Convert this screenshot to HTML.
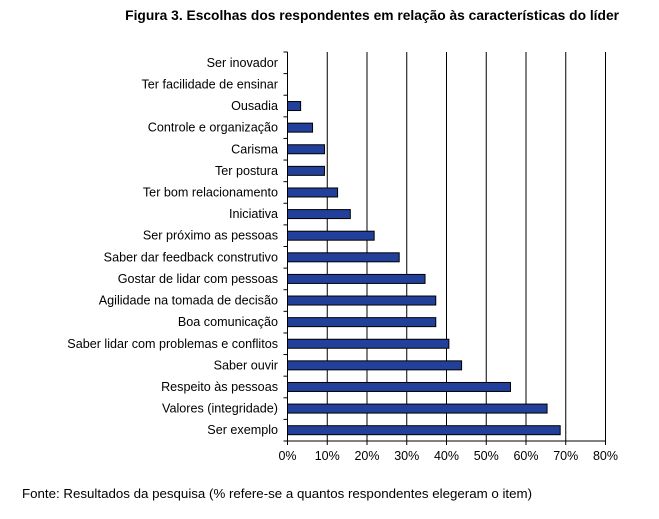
<!DOCTYPE html>
<html><head><meta charset="utf-8"><style>
body{margin:0;background:#fff;width:659px;height:514px;overflow:hidden;font-family:"Liberation Sans",Arial,sans-serif}
text{font-family:"Liberation Sans",Arial,sans-serif}
</style></head><body>
<svg width="659" height="514">
<text x="619" y="20" text-anchor="end" font-size="13.8" font-weight="bold">Figura 3. Escolhas dos respondentes em relação às características do líder</text>
<g id="plot"></g>
<text x="22" y="498" font-size="13.3">Fonte: Resultados da pesquisa (% refere-se a quantos respondentes elegeram o item)</text>
</svg>
<script>
const categories=["Ser inovador","Ter facilidade de ensinar","Ousadia","Controle e organização","Carisma","Ter postura","Ter bom relacionamento","Iniciativa","Ser próximo as pessoas","Saber dar feedback construtivo","Gostar de lidar com pessoas","Agilidade na tomada de decisão","Boa comunicação","Saber lidar com problemas e conflitos","Saber ouvir","Respeito às pessoas","Valores (integridade)","Ser exemplo"];
const values=[0,0,3.3,6.3,9.3,9.3,12.6,15.8,21.8,28.1,34.6,37.3,37.3,40.6,43.8,56.1,65.3,68.6];
const ticks=[0,10,20,30,40,50,60,70,80];
const tickLabels=["0%","10%","20%","30%","40%","50%","60%","70%","80%"];
const NS="http://www.w3.org/2000/svg";
const g=document.getElementById("plot");
const x0=287.5,x1=605.5,plotTop=52,plotBot=441;
const xs=v=>x0+(v-0)/(80-0)*(x1-x0);
const bw=(plotBot-plotTop)/categories.length;
const yc=i=>plotTop+(i+0.5)*bw;
function mk(t,a){const e=document.createElementNS(NS,t);for(const k in a)e.setAttribute(k,a[k]);g.appendChild(e);return e;}
ticks.forEach((t,i)=>{
 if(t>0){const l=mk("line",{x1:xs(t),x2:xs(t),y1:plotTop,y2:plotBot,stroke:"#000","stroke-width":1});
 
 }
 const tk=mk("line",{x1:xs(t),x2:xs(t),y1:plotBot,y2:plotBot+4,stroke:"#000"});
 
 
 const tx=mk("text",{x:xs(t),y:plotBot+19,"text-anchor":"middle","font-size":12.5});
 tx.textContent=tickLabels[i];
 
 
});
for(let i=0;i<=categories.length;i++){
 const tk=mk("line",{x1:x0-4,x2:x0,y1:plotTop+i*bw,y2:plotTop+i*bw,stroke:"#000"});
 
 
}
categories.forEach((c,i)=>{
 const tx=mk("text",{x:278,y:yc(i)+4,"text-anchor":"end","font-size":12.6});
 tx.textContent=c;
 
 
 if(values[i]>0){
  const r=mk("rect",{x:x0,y:yc(i)-4.5,width:xs(values[i])-x0,height:9,fill:"#22409a",stroke:"#000","stroke-width":1});
  
  
 }
});
const ya=mk("line",{x1:x0,x2:x0,y1:plotTop,y2:plotBot,stroke:"#000"});


const xa=mk("line",{x1:x0,x2:x1,y1:plotBot,y2:plotBot,stroke:"#000"});


</script>
</body></html>
